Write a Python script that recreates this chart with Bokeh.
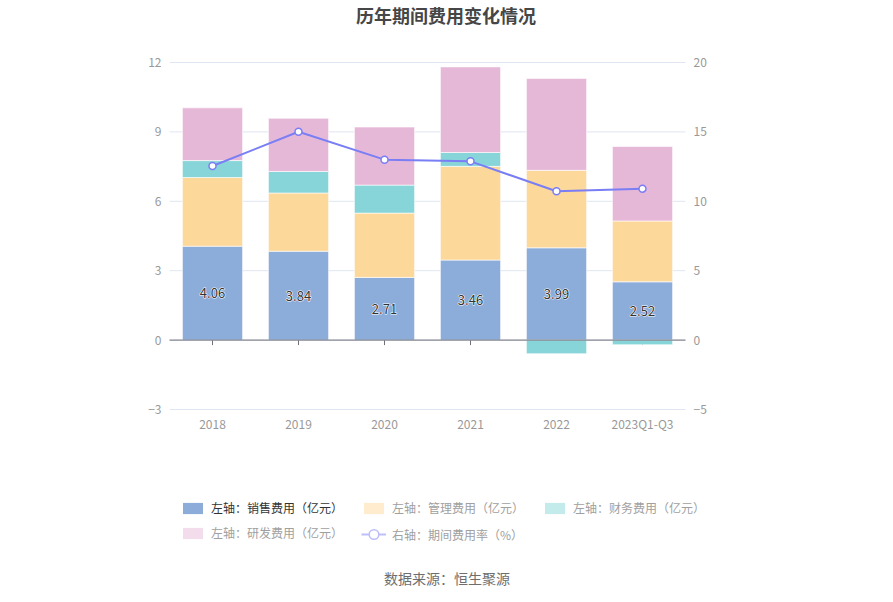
import math
from bokeh.plotting import figure
from bokeh.models import (Range1d, LinearAxis, FixedTicker, Label, Legend, LegendItem)
from bokeh.core.properties import value
from bokeh.embed import file_html
from bokeh.resources import INLINE

# ---------------- data ----------------
categories = ["2018", "2019", "2020", "2021", "2022", "2023Q1-Q3"]
sales = [4.06, 3.84, 2.71, 3.46, 3.99, 2.52]      # 销售费用（亿元）
admin = [2.97, 2.52, 2.78, 4.05, 3.35, 2.63]      # 管理费用（亿元）
finance = [0.73, 0.93, 1.21, 0.60, -0.59, -0.20]  # 财务费用（亿元）
rd = [2.28, 2.30, 2.51, 3.70, 3.97, 3.22]         # 研发费用（亿元）
rate = [12.54, 15.01, 13.00, 12.88, 10.72, 10.91]  # 期间费用率（%）
left_ticks = [-3, 0, 3, 6, 9, 12]
right_ticks = [-5, 0, 5, 10, 15, 20]
sales_labels = [f"{v:.2f}" for v in sales]

title_text = "历年期间费用变化情况"
source_text = "数据来源：恒生聚源"
legend_labels = ["左轴：销售费用（亿元）", "左轴：管理费用（亿元）", "左轴：财务费用（亿元）",
                 "左轴：研发费用（亿元）", "右轴：期间费用率（%）"]

# ---------------- layout / style ----------------
W, H = 893, 602
PL, PR, PT, PB = 169, 685, 62, 409   # plot area in canvas pixels
FONT = "Noto Sans CJK SC"
C_SALES = "#8cacd9"
C_ADMIN = "#fdd89b"
C_FIN = "#87d5d8"
C_RD = "#e6b8d8"
C_LINE = "#7a7ef5"
F_ADMIN = "#ffecce"
F_FIN = "#c4ebec"
F_RD = "#f3dcec"
F_LINE = "#bdbefa"
AXIS_TEXT = "#999999"
AXIS_LINE = "#6e7079"

# category positions (index) and stacking
xs = list(range(len(categories)))
admin_top = [s + a for s, a in zip(sales, admin)]
fin_bottom = [t if f >= 0 else 0 for t, f in zip(admin_top, finance)]
fin_top = [t + f if f >= 0 else f for t, f in zip(admin_top, finance)]
rd_bottom = [t + max(f, 0) for t, f in zip(admin_top, finance)]
rd_top = [b + r for b, r in zip(rd_bottom, rd)]
label_y = [s / 2 for s in sales]
zeros = [0 for _ in categories]

# ranges so that the plot area sits at PL..PR / PT..PB while the frame fills the canvas
x_lo, x_hi = -0.5, len(categories) - 0.5
xppu = (PR - PL) / (x_hi - x_lo)
y_lo, y_hi = left_ticks[0], left_ticks[-1]
yppu = (PB - PT) / (y_hi - y_lo)
r_lo, r_hi = right_ticks[0], right_ticks[-1]
rppu = (PB - PT) / (r_hi - r_lo)

p = figure(width=W, height=H, output_backend="svg", toolbar_location=None, title=None,
           x_axis_type=None, y_axis_type=None, min_border=0,
           x_range=Range1d(x_lo - PL / xppu, x_hi + (W - PR) / xppu),
           y_range=Range1d(y_lo - (H - PB) / yppu, y_hi + PT / yppu))
p.extra_y_ranges = {"right": Range1d(r_lo - (H - PB) / rppu, r_hi + PT / rppu)}
p.outline_line_color = None
p.background_fill_color = "white"
p.border_fill_color = "white"

# horizontal grid lines across the plot area
p.segment(x0=[x_lo] * len(left_ticks), x1=[x_hi] * len(left_ticks), y0=left_ticks,
          y1=left_ticks, line_color="#e0e6f1", line_width=1)

# category ticks on the zero line (upper half hidden by bars)
p.scatter(x=xs, y=zeros, marker="dash", angle=math.pi / 2, size=10,
          line_color=AXIS_LINE, line_width=1)

bar_kw = dict(width=0.7, line_color="white", line_width=1, line_alpha=0.6)
p.vbar(x=xs, bottom=0, top=sales, fill_color=C_SALES, **bar_kw)
p.vbar(x=xs, bottom=sales, top=admin_top, fill_color=C_ADMIN, **bar_kw)
p.vbar(x=xs, bottom=fin_bottom, top=fin_top, fill_color=C_FIN, **bar_kw)
p.vbar(x=xs, bottom=rd_bottom, top=rd_top, fill_color=C_RD, **bar_kw)

# zero axis line
p.segment(x0=[x_lo], x1=[x_hi], y0=[0], y1=[0], line_color=AXIS_LINE, line_width=1)

p.line(x=xs, y=rate, y_range_name="right", line_color=C_LINE, line_width=2)
p.scatter(x=xs, y=rate, y_range_name="right", marker="circle", size=7,
          fill_color="white", line_color=C_LINE, line_width=1.5)

txt_kw = dict(text_font=value(FONT), text_font_size="13px", text_align="center",
              text_baseline="middle")
p.text(x=xs, y=label_y, text=sales_labels, text_color="white",
       text_outline_color="white", **txt_kw)
p.text(x=xs, y=label_y, text=sales_labels, text_color="#333333", **txt_kw)

# axes (fixed locations, so the frame can fill the whole canvas)
lax = LinearAxis(fixed_location=x_lo, ticker=FixedTicker(ticks=left_ticks))
rax = LinearAxis(fixed_location=x_hi, y_range_name="right",
                 ticker=FixedTicker(ticks=right_ticks))
bax = LinearAxis(fixed_location=y_lo, ticker=FixedTicker(ticks=xs),
                 major_label_overrides={i: c for i, c in zip(xs, categories)})
for ax in [lax, rax, bax]:
    ax.axis_line_color = None
    ax.major_tick_line_color = None
    ax.minor_tick_line_color = None
    ax.major_tick_out = 0
    ax.major_tick_in = 0
    ax.major_label_text_color = AXIS_TEXT
    ax.major_label_text_font = FONT
    ax.major_label_text_font_size = "12px"
    ax.major_label_standoff = 8
bax.major_label_standoff = 5
p.add_layout(lax, "left")
p.add_layout(rax, "right")
p.add_layout(bax, "below")

# title and source
p.add_layout(Label(x=445.5, y=H - 14.5, x_units="screen", y_units="screen",
                   text=title_text, text_font=FONT, text_font_size="18px",
                   text_font_style="bold", text_color="#464646",
                   text_align="center", text_baseline="middle"))
p.add_layout(Label(x=446.5, y=H - 577, x_units="screen", y_units="screen",
                   text=source_text, text_font=FONT, text_font_size="14px",
                   text_color="#6e6e6e", text_align="center", text_baseline="middle"))

# legend (proxy renderers with no drawable point; items 2-5 faded as in the reference)
nan = [float("nan")]
d_sales = p.vbar(x=nan, top=nan, width=1, fill_color=C_SALES, line_color=None)
d_admin = p.vbar(x=nan, top=nan, width=1, fill_color=F_ADMIN, line_color=None)
d_fin = p.vbar(x=nan, top=nan, width=1, fill_color=F_FIN, line_color=None)
d_rd = p.vbar(x=nan, top=nan, width=1, fill_color=F_RD, line_color=None)
d_line = p.line(x=nan, y=nan, line_color=F_LINE, line_width=2)
d_mark = p.scatter(x=nan, y=nan, marker="circle", size=10, fill_color="white",
                   line_color=F_LINE, line_width=1.5)

# (label, renderers, left x, bottom y, text colour, item height)
leg_specs = [
    (legend_labels[0], [d_sales], 180, H - 516, "#333333", 14),
    (legend_labels[1], [d_admin], 361, H - 516, "#a0a0a0", 14),
    (legend_labels[2], [d_fin], 542, H - 516, "#a0a0a0", 14),
    (legend_labels[3], [d_rd], 180, H - 541, "#a0a0a0", 14),
    (legend_labels[4], [d_line, d_mark], 361, H - 546, "#a0a0a0", 24),
]
for lab, rs, lx, ly, col, gh in leg_specs:
    lg = Legend(items=[LegendItem(label=lab, renderers=rs)], location=(lx, ly),
                padding=0, margin=0, spacing=0, border_line_color=None,
                background_fill_alpha=0, glyph_width=25, glyph_height=gh,
                label_height=gh, label_standoff=6, label_text_font=FONT,
                label_text_font_size="12px", label_text_color=col)
    p.add_layout(lg, "center")

open("out.html", "w").write(file_html(p, INLINE))
